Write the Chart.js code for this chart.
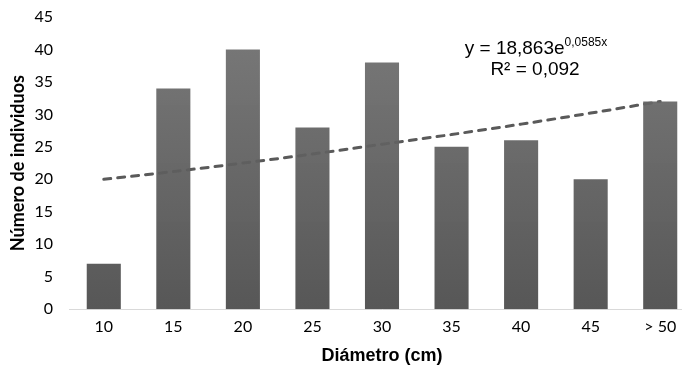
<!DOCTYPE html>
<html>
<head>
<meta charset="utf-8">
<script src="https://cdn.jsdelivr.net/npm/chart.js@4/dist/chart.umd.min.js"></script>
<style>
    html, body { margin: 0; padding: 0; background: #ffffff; overflow: hidden; }
    #wrap { width: 682px; height: 375px; overflow: hidden; }
</style>
</head>
<body>
<div id="wrap"><canvas id="chart" width="696" height="375"></canvas></div>
<script>
var categories = ['10', '15', '20', '25', '30', '35', '40', '45', '> 50'];
var individuos = [7, 34, 40, 28, 38, 25, 26, 20, 32];
var tendencia = [20.0, 21.2, 22.5, 23.9, 25.4, 26.9, 28.5, 30.2, 32.0];
var yTicks = [0, 5, 10, 15, 20, 25, 30, 35, 40, 45];
var equationLines = ['y = 18,863e', 'R² = 0,092'];
var exponentText = '0,0585x';

var barGradient = function (context) {
    var chart = context.chart;
    var area = chart.chartArea;
    if (!area) {
        return '#606060';
    }
    var g = chart.ctx.createLinearGradient(0, area.top, 0, area.bottom);
    g.addColorStop(0, 'rgba(112, 112, 112, 0.93)');
    g.addColorStop(1, 'rgba(78, 78, 78, 0.95)');
    return g;
};

var equationPlugin = {
    id: 'equation',
    afterDatasetsDraw: function (chart) {
        var ctx = chart.ctx;
        ctx.save();
        ctx.fillStyle = '#000000';
        ctx.textBaseline = 'alphabetic';
        ctx.font = '19px "Liberation Sans", Arial, sans-serif';
        var baseW = ctx.measureText(equationLines[0]).width;
        ctx.font = '12px "Liberation Sans", Arial, sans-serif';
        var expW = ctx.measureText(exponentText).width;
        var cx = 536;
        var x0 = cx - (baseW + expW) / 2;
        ctx.font = '19px "Liberation Sans", Arial, sans-serif';
        ctx.textAlign = 'left';
        ctx.fillText(equationLines[0], x0, 54);
        ctx.font = '12px "Liberation Sans", Arial, sans-serif';
        ctx.fillText(exponentText, x0 + baseW, 46);
        ctx.font = '19px "Liberation Sans", Arial, sans-serif';
        ctx.textAlign = 'center';
        ctx.fillText(equationLines[1], cx - 1, 75);
        ctx.restore();
    }
};

var chart = new Chart(document.getElementById('chart'), {
    type: 'bar',
    data: {
        labels: categories,
        datasets: [{
            type: 'line',
            data: tendencia,
            borderColor: '#5a5a5a',
            borderWidth: 3,
            borderDash: [7, 7],
            borderCapStyle: 'round',
            pointRadius: 0,
            fill: false,
            cubicInterpolationMode: 'monotone',
            order: 2
        }, {
            data: individuos,
            backgroundColor: barGradient,
            borderWidth: 0,
            categoryPercentage: 1,
            barPercentage: 0.49,
            order: 1
        }]
    },
    options: {
        responsive: false,
        animation: false,
        layout: { padding: { left: 7, right: 1, top: 17, bottom: 8 } },
        plugins: {
            legend: { display: false },
            tooltip: { enabled: false }
        },
        scales: {
            x: {
                grid: { display: false, drawTicks: false },
                border: { display: true, color: '#d9d9d9', width: 1 },
                ticks: {
                    color: '#000000',
                    padding: 8,
                    font: { family: 'Lato, "Open Sans", sans-serif', size: 16 }
                },
                title: {
                    display: true,
                    text: 'Diámetro (cm)',
                    color: '#000000',
                    padding: { top: 1, bottom: 0 },
                    font: { family: '"Liberation Sans", Arial, sans-serif', size: 18, weight: 'bold' }
                }
            },
            y: {
                min: 0,
                max: 45,
                grid: { display: false, drawTicks: false },
                border: { display: false },
                afterBuildTicks: function (scale) {
                    scale.ticks = yTicks.map(function (v) { return { value: v }; });
                },
                afterFit: function (scale) {
                    scale.width = 62;
                    scale.paddingTop = 0;
                },
                ticks: {
                    color: '#000000',
                    padding: 16,
                    font: { family: 'Lato, "Open Sans", sans-serif', size: 16 }
                },
                title: {
                    display: true,
                    text: 'Número de individuos',
                    color: '#000000',
                    padding: { top: 0, bottom: 0 },
                    font: { family: 'Lato, "Open Sans", sans-serif', size: 18, weight: 'bold' }
                }
            }
        }
    },
    plugins: [equationPlugin]
});
</script>
</body>
</html>
